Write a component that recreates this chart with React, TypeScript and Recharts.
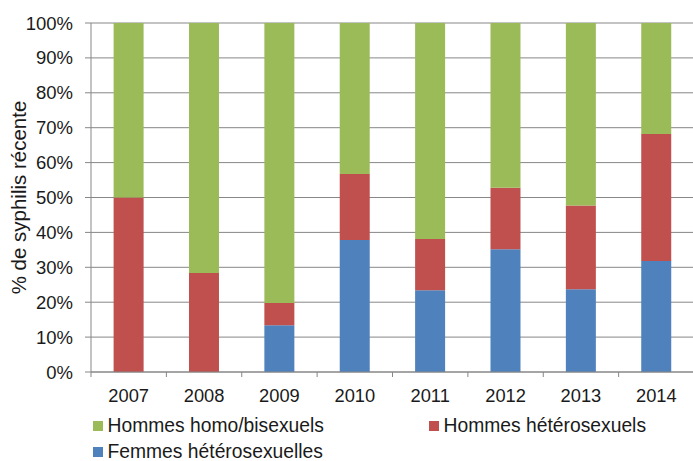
import { BarChart, Bar, XAxis, YAxis, CartesianGrid, Legend } from "recharts";

const YEARS = ["2007", "2008", "2009", "2010", "2011", "2012", "2013", "2014"];
const FEMMES_HETERO = [0, 0, 13.4, 37.8, 23.4, 35.2, 23.7, 31.8];
const HOMMES_HETERO = [50, 28.4, 6.4, 18.9, 14.7, 17.6, 24.0, 36.4];
const HOMMES_HOMO = [50, 71.6, 80.2, 43.3, 61.9, 47.2, 52.3, 31.8];
const Y_TICKS = [0, 10, 20, 30, 40, 50, 60, 70, 80, 90, 100];

const SERIES = [
  { key: "homo", name: "Hommes homo/bisexuels", color: "#9BBB59" },
  { key: "hetH", name: "Hommes hétérosexuels", color: "#C0504D" },
  { key: "hetF", name: "Femmes hétérosexuelles", color: "#4F81BD" },
];

const data = YEARS.map((y, i) => ({
  year: y,
  hetF: FEMMES_HETERO[i],
  hetH: HOMMES_HETERO[i],
  homo: HOMMES_HOMO[i],
}));

const FONT = "'Liberation Sans', Arial, sans-serif";
const TEXT = "#1a1a1a";
const GRID = "#878787";
const BAND = 603 / YEARS.length;

function YearTick(props: any) {
  const { x, y, payload, index } = props;
  const top = y - 8;
  return (
    <g>
      <line x1={x - BAND / 2} x2={x - BAND / 2} y1={top} y2={top + 5} stroke={GRID} />
      {index === YEARS.length - 1 && (
        <line x1={x + BAND / 2} x2={x + BAND / 2} y1={top} y2={top + 5} stroke={GRID} />
      )}
      <text x={x} y={top + 29.5} textAnchor="middle" fontSize={18.3} fill={TEXT} fontFamily={FONT}>
        {payload.value}
      </text>
    </g>
  );
}

function LegendBox() {
  const item = (s: (typeof SERIES)[number], left: number, top: number) => (
    <div
      key={s.key}
      style={{ position: "absolute", left, top, height: 18, display: "flex", alignItems: "center" }}
    >
      <span style={{ width: 10, height: 10, background: s.color, marginRight: 4.5 }} />
      <span style={{ fontSize: 19.3, lineHeight: "18px", color: TEXT, fontFamily: FONT, whiteSpace: "nowrap" }}>
        {s.name}
      </span>
    </div>
  );
  return (
    <div style={{ position: "relative", width: 693, height: 44 }}>
      {item(SERIES[0], 93, 0)}
      {item(SERIES[1], 429, 0)}
      {item(SERIES[2], 93, 26)}
    </div>
  );
}

export default function App() {
  return (
    <div style={{ position: "absolute", left: 0, top: 0, width: 693, height: 461, background: "#fff" }}>
      <BarChart
        width={693}
        height={461}
        data={data}
        margin={{ top: 23, right: -1, left: 0, bottom: 4 }}
        barCategoryGap="30%"
      >
        <CartesianGrid vertical={false} stroke={GRID} />
        <XAxis
          dataKey="year"
          axisLine={{ stroke: GRID }}
          tickLine={false}
          height={30}
          tick={<YearTick />}
          interval={0}
        />
        <YAxis
          domain={[0, 100]}
          ticks={Y_TICKS}
          width={91}
          axisLine={{ stroke: GRID }}
          tickLine={{ stroke: GRID }}
          tickSize={6}
          tickMargin={12}
          tickFormatter={(v: number) => `${v}%`}
          tick={{ fontSize: 18.5, fill: TEXT, fontFamily: FONT }}
          label={{
            content: ({ viewBox }: any) => {
              const cy = viewBox.y + viewBox.height / 2;
              return (
                <text
                  x={18.5}
                  y={cy}
                  transform={`rotate(-90, 18.5, ${cy})`}
                  textAnchor="middle"
                  dominantBaseline="central"
                  fontSize={20.5}
                  fill={TEXT}
                  fontFamily={FONT}
                >
                  % de syphilis récente
                </text>
              );
            },
          }}
        />
        <Legend
          verticalAlign="bottom"
          height={55}
          content={() => <LegendBox />}
          wrapperStyle={{ left: 0, top: 417, width: 693 }}
        />
        {SERIES.slice()
          .reverse()
          .map((s) => (
            <Bar
              key={s.key}
              dataKey={s.key}
              name={s.name}
              stackId="a"
              fill={s.color}
              isAnimationActive={false}
            />
          ))}
      </BarChart>
    </div>
  );
}
